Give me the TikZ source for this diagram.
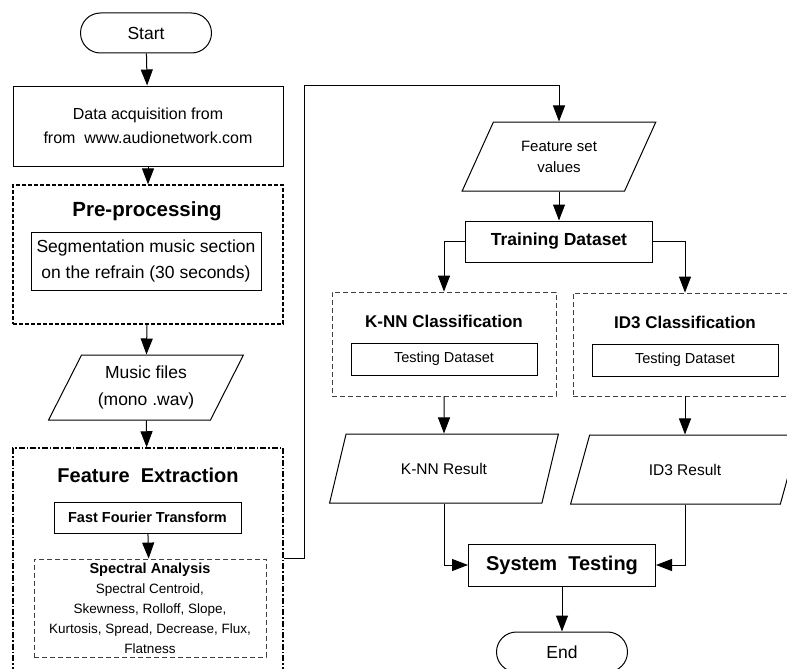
\documentclass[tikz,border=0pt]{standalone}
\usepackage{fontspec}
\setmainfont{Liberation Sans}
\usetikzlibrary{arrows.meta,shapes.geometric}
\begin{document}
\begin{tikzpicture}[x=1pt,y=-1pt,line join=miter,
  box/.style={draw,line width=1pt,inner sep=2pt,align=center},
  term/.style={box,rounded corners=20pt,minimum width=131pt,minimum height=40pt,font=\fontsize{17.5}{20}\selectfont},
  io/.style={draw,line width=1pt,trapezium,trapezium left angle=61,trapezium right angle=119,
    trapezium stretches=true,inner sep=1pt,align=center},
  group/.style={draw,line width=1.3pt,inner sep=0pt},
  thingroup/.style={draw=black!75,line width=0.8pt,dash pattern=on 5pt off 3pt,inner sep=0pt,align=center},
  heading/.style={font=\bfseries\fontsize{17}{20}\selectfont},
  arr/.style={line width=1pt,-{Triangle[width=12pt,length=16pt]}}]
  \useasboundingbox (0,0) rectangle (787,669);
  \clip (0,0) rectangle (787,669);

  % left column
  \node[term] (start) at (146,33) {Start};
  \node[box,minimum width=270pt,minimum height=80pt,font=\fontsize{16}{24}\selectfont] (data) at (148,126)
    {Data acquisition from\\from\ \ www.audionetwork.com};
  \node[group,dash pattern=on 4pt off 2pt,minimum width=270pt,minimum height=139pt] (pre) at (148,254.5) {};
  \node[font=\bfseries\fontsize{20.5}{24}\selectfont] (pretitle) at (147,211) {Pre-processing};
  \node[box,minimum width=230pt,minimum height=58pt,font=\fontsize{17.5}{26}\selectfont] (seg) at (146,261)
    {Segmentation music section\\on the refrain (30 seconds)};
  \node[io,minimum width=195pt,minimum height=65pt,font=\fontsize{17.5}{27}\selectfont] (music) at (146,387.5)
    {Music files\\(mono .wav)};
  \node[group,line width=1.5pt,dash pattern=on 6pt off 2pt on 1.5pt off 2pt,
    minimum width=270pt,minimum height=242pt] (fe) at (148,569) {};
  \node[font=\bfseries\fontsize{20}{24}\selectfont] (fetitle) at (148,475) {Feature\ \ Extraction};
  \node[box,minimum width=187pt,minimum height=31pt,font=\bfseries\fontsize{14.5}{17}\selectfont] (fft) at (147.5,517.5)
    {Fast Fourier Transform};
  \node[thingroup,minimum width=232pt,minimum height=98pt,font=\fontsize{13.5}{20}\selectfont] (spec) at (150,608)
    {\textbf{\fontsize{14.5}{20}\selectfont Spectral Analysis}\\Spectral Centroid,\\Skewness, Rolloff, Slope,\\
     Kurtosis, Spread, Decrease, Flux,\\Flatness};

  % right column
  \node[io,minimum width=194pt,minimum height=69pt,font=\fontsize{15}{21}\selectfont] (fsv) at (559,156.5)
    {Feature set\\values};
  \node[box,minimum width=187pt,minimum height=41pt,font=\bfseries\fontsize{17.5}{20}\selectfont] (train) at (559,241.5)
    {Training Dataset};
  \node[thingroup,minimum width=224pt,minimum height=104pt] (knn) at (444,344) {};
  \node[heading] (knntitle) at (444,321) {K-NN Classification};
  \node[box,minimum width=186pt,minimum height=32pt,font=\fontsize{14.5}{17}\selectfont] (knntest) at (444,359)
    {Testing Dataset};
  \node[thingroup,minimum width=224pt,minimum height=103pt] (id3) at (685,344.5) {};
  \node[heading] (id3title) at (685,322) {ID3 Classification};
  \node[box,minimum width=186pt,minimum height=32pt,font=\fontsize{14.5}{17}\selectfont] (id3test) at (685,360)
    {Testing Dataset};
  \node[io,minimum width=229pt,minimum height=69pt,font=\fontsize{15.5}{18}\selectfont] (knnres) at (444,468.5)
    {K-NN Result};
  \node[io,minimum width=229pt,minimum height=69pt,font=\fontsize{15.5}{18}\selectfont] (id3res) at (685,469.5)
    {ID3 Result};
  \node[box,minimum width=187pt,minimum height=42pt,font=\bfseries\fontsize{20}{24}\selectfont] (sys) at (562,565)
    {System\ \ Testing};
  \node[term] (end) at (562,652) {End};

  % connectors
  \draw[arr] (start) -- (data);
  \draw[arr] (data) -- (pre);
  \draw[arr] (pre) -- (music);
  \draw[arr] (music) -- (fe);
  \draw[arr] (fft) -- (spec);
  \coordinate (turn) at (304,85);
  \draw[line width=1pt] (fe.east |- spec.north) -| (turn);
  \draw[arr] (turn) -| (fsv.north);
  \draw[arr] (fsv) -- (train);
  \draw[arr] (train.west) -| (knn.north);
  \draw[arr] (train.east) -| (id3.north);
  \draw[arr] (knn) -- (knnres);
  \draw[arr] (id3) -- (id3res);
  \draw[arr] (knnres.south) |- (sys.west);
  \draw[arr] (id3res.south) |- (sys.east);
  \draw[arr] (sys) -- (end);
\end{tikzpicture}
\end{document}
